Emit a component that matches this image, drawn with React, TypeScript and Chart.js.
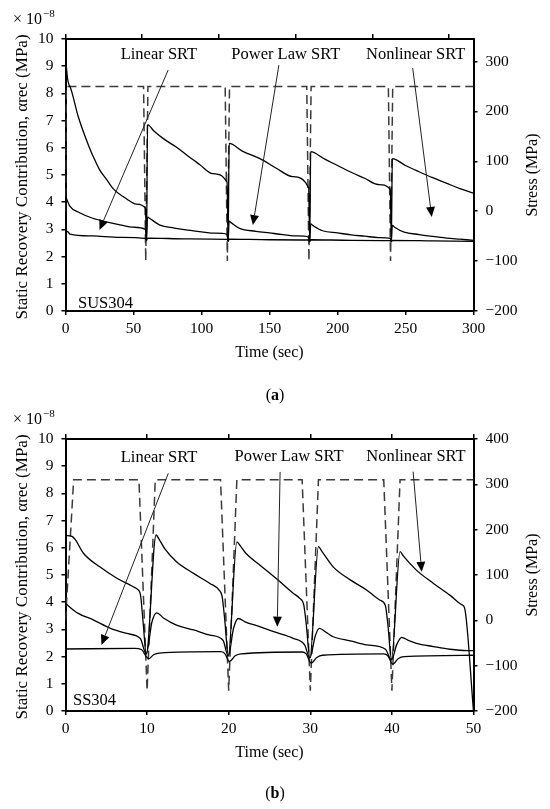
import { useEffect, useRef } from "react";
import { Chart, registerables } from "chart.js";

Chart.register(...registerables);

const SERIF = '"Liberation Serif", "Times New Roman", serif';

// ---- (a) SUS304, 0-300 s ----
const A_TIME_TICKS = [0, 50, 100, 150, 200, 250, 300];
const A_TOP_TICKS = [0, 1, 2, 3, 4, 5];
const A_STRESS_TICKS = [-200, -100, 0, 100, 200, 300];

const A_T_NL = [0, 0.3, 3.3, 9.4, 16.8, 20, 25, 30, 35, 45, 52, 58.8, 59.6, 60.3, 65, 73, 81.7, 90, 98.8, 108, 118.8, 119.6, 120.3, 130, 143, 155, 167, 178.8, 179.6, 180.3, 190, 200, 210, 220, 230, 238.8, 239.6, 240.3, 250, 260, 270, 280, 290, 300];
const A_NL = [10.6, 9.3, 8.25, 7.14, 6.1, 5.72, 5.2, 4.85, 4.5, 4.12, 3.93, 3.78, 2.58, 6.85, 6.62, 6.3, 6.02, 5.7, 5.38, 5.05, 4.73, 2.57, 6.16, 5.88, 5.6, 5.25, 4.94, 4.52, 2.56, 5.86, 5.6, 5.35, 5.1, 4.88, 4.65, 4.47, 2.55, 5.6, 5.35, 5.12, 4.9, 4.7, 4.5, 4.33];

const A_T_PL = [0, 1, 3.3, 10, 20, 30, 40, 50, 58.8, 59.6, 60.3, 62, 69.4, 80, 90, 100, 110, 118.8, 119.6, 120.3, 122, 128, 140, 150, 160, 170, 178.8, 179.6, 180.3, 182, 189, 200, 210, 220, 230, 238.8, 239.6, 240.3, 242, 249, 260, 270, 280, 290, 300];
const A_PL = [4.25, 4.1, 3.85, 3.62, 3.41, 3.28, 3.17, 3.08, 3.0, 2.6, 3.45, 3.4, 3.16, 3.05, 2.97, 2.91, 2.86, 2.82, 2.59, 3.3, 3.24, 3.04, 2.93, 2.87, 2.81, 2.76, 2.72, 2.58, 3.2, 3.14, 2.95, 2.87, 2.8, 2.75, 2.7, 2.67, 2.57, 3.15, 3.08, 2.9, 2.81, 2.74, 2.68, 2.64, 2.6];

const A_T_LIN = [0, 2, 3.3, 20, 40, 58.8, 59.6, 60.3, 90, 118.8, 119.6, 120.3, 150, 178.8, 179.6, 180.3, 210, 238.8, 239.6, 240.3, 270, 300];
const A_LIN = [2.95, 2.9, 2.83, 2.76, 2.71, 2.67, 2.6, 2.68, 2.65, 2.63, 2.56, 2.64, 2.62, 2.61, 2.55, 2.62, 2.6, 2.59, 2.54, 2.6, 2.58, 2.56];

const A_T_STRESS = [0, 0.5, 57.4, 59, 60.6, 117.4, 119, 120.6, 177.4, 179, 180.6, 237.4, 239, 240.6, 300];
const A_STRESS = [0, 250, 250, -100, 250, 250, -100, 250, 250, -100, 250, 250, -100, 250, 250];

// ---- (b) SS304, 0-50 s ----
const B_TIME_TICKS = [0, 10, 20, 30, 40, 50];
const B_STRESS_TICKS = [-200, -100, 0, 100, 200, 300, 400];

const B_T_NL = [0, 0.8, 1.2, 2.2, 4.2, 6.3, 8.3, 8.8, 9.2, 9.5, 9.9, 11.1, 11.5, 12.2, 13.6, 15.7, 17.7, 18.8, 19.2, 19.5, 19.95, 21.0, 21.4, 22.1, 23.8, 25.9, 27.9, 28.7, 29.2, 29.5, 29.95, 31.0, 31.4, 32.8, 34.9, 36.9, 38.5, 39.2, 39.5, 39.95, 41.0, 41.4, 43, 45.1, 47.1, 48.6, 48.9, 50];
const B_NL = [6.45, 6.42, 6.3, 5.8, 5.3, 4.88, 4.57, 4.48, 4.25, 3.3, 2.1, 6.47, 6.3, 5.95, 5.49, 5.06, 4.69, 4.45, 4.2, 3.4, 2.05, 6.22, 6.08, 5.8, 5.37, 4.85, 4.33, 4.14, 3.9, 3.2, 1.95, 6.04, 5.88, 5.3, 4.82, 4.45, 4.08, 3.88, 3.2, 1.9, 5.86, 5.7, 5.18, 4.69, 4.26, 3.9, 3.8, 0];

const B_T_PL = [0, 1.5, 3.4, 5.5, 7.5, 8.7, 9.2, 9.9, 10.6, 11.2, 12, 13.6, 15.7, 17.7, 19.3, 19.95, 20.6, 21.2, 22, 23.8, 25.9, 27.9, 29.3, 29.95, 30.6, 31.1, 32, 32.8, 34.9, 36.9, 39.2, 39.95, 40.6, 41.2, 42, 43, 45.1, 47.1, 49.2, 50];
const B_PL = [3.95, 3.6, 3.35, 3.04, 2.85, 2.76, 2.65, 2.1, 3.28, 3.61, 3.42, 3.16, 2.98, 2.79, 2.6, 2.02, 3.05, 3.4, 3.28, 3.1, 2.88, 2.67, 2.43, 1.95, 2.75, 3.04, 2.88, 2.73, 2.58, 2.43, 2.27, 1.88, 2.45, 2.71, 2.6, 2.49, 2.37, 2.27, 2.22, 2.22];

const B_T_LIN = [0, 8.5, 9.3, 9.9, 10.2, 10.8, 11.5, 19, 19.5, 20.1, 20.8, 21.5, 29, 29.5, 30.1, 30.8, 31.5, 39, 39.5, 40.1, 40.8, 41.5, 50];
const B_LIN = [2.28, 2.3, 2.26, 2.0, 1.92, 2.07, 2.13, 2.18, 2.12, 1.82, 2.03, 2.1, 2.17, 2.1, 1.76, 1.97, 2.05, 2.1, 2.03, 1.72, 1.93, 2.0, 2.05];

const B_T_STRESS = [0, 1, 9, 10, 11, 19, 20, 21, 29, 30, 31, 39, 40, 41, 50];
const B_STRESS = [0, 310, 310, -155, 310, 310, -155, 310, 310, -155, 310, 310, -155, 310, 310];

const Y_TICKS = [0, 1, 2, 3, 4, 5, 6, 7, 8, 9, 10];
const SRT_NAMES = ["Linear SRT", "Power Law SRT", "Nonlinear SRT"];

// label centres and arrows (time, value) in the left axis units
const A_LABEL_POS = [[68.7, 9.43], [162, 9.43], [257.5, 9.43]];
const A_ARROWS = [[75.5, 8.86, 25, 2.98], [156.9, 9.04, 137.8, 3.16], [255.3, 8.93, 269.3, 3.46]];
const B_LABEL_POS = [[11.46, 9.3], [27.4, 9.35], [42.95, 9.35]];
const B_ARROWS = [[12.6, 8.74, 4.41, 2.43], [26.3, 8.79, 25.95, 3.1], [42.6, 8.8, 43.65, 5.12]];

type Panel = {
  h: number; top: number; bottom: number;
  xMax: number; xTicks: number[]; x2Max: number; x2Ticks: number[];
  y1Max: number; y1Ticks: number[];
  nl: [number[], number[]]; pl: [number[], number[]]; lin: [number[], number[]]; stress: [number[], number[]];
  labels: number[][]; arrows: number[][];
  sample: string; sampleDx: number; sampleDy: number;
  caption: string; captionY: number;
};

const PANEL_A: Panel = {
  h: 405, top: 39, bottom: 311,
  xMax: 300, xTicks: A_TIME_TICKS, x2Max: 5.32, x2Ticks: A_TOP_TICKS,
  y1Max: 345, y1Ticks: A_STRESS_TICKS,
  nl: [A_T_NL, A_NL], pl: [A_T_PL, A_PL], lin: [A_T_LIN, A_LIN], stress: [A_T_STRESS, A_STRESS],
  labels: A_LABEL_POS, arrows: A_ARROWS,
  sample: "SUS304", sampleDx: 12.5, sampleDy: 3,
  caption: "a", captionY: 400,
};

const PANEL_B: Panel = {
  h: 404, top: 34, bottom: 306,
  xMax: 50, xTicks: B_TIME_TICKS, x2Max: 50, x2Ticks: B_TIME_TICKS,
  y1Max: 400, y1Ticks: B_STRESS_TICKS,
  nl: [B_T_NL, B_NL], pl: [B_T_PL, B_PL], lin: [B_T_LIN, B_LIN], stress: [B_T_STRESS, B_STRESS],
  labels: B_LABEL_POS, arrows: B_ARROWS,
  sample: "SS304", sampleDx: 7.5, sampleDy: 6,
  caption: "b", captionY: 393,
};

const zip = (t: number[], v: number[]) => t.map((x, i) => ({ x, y: v[i] }));
const fixTicks = (vals: number[]) => (s: any) => { s.ticks = vals.map((value) => ({ value })); };
const minus = (v: any) => (Number(v) < 0 ? "\u2212" + Math.abs(Number(v)) : String(v));

function decorPlugin(p: Panel) {
  return {
    id: "decor",
    afterDraw(chart: any) {
      const ctx = chart.ctx as CanvasRenderingContext2D;
      const { left, right, top, bottom } = chart.chartArea;
      const xs = chart.scales.x, ys = chart.scales.y;
      ctx.save();
      ctx.fillStyle = "#000";
      ctx.strokeStyle = "#222";
      ctx.lineWidth = 1;

      for (const [t1, v1, t2, v2] of p.arrows) {
        const x1 = xs.getPixelForValue(t1), y1 = ys.getPixelForValue(v1);
        const x2 = xs.getPixelForValue(t2), y2 = ys.getPixelForValue(v2);
        const a = Math.atan2(y2 - y1, x2 - x1);
        const hl = 10, hw = 4.5;
        const bx = x2 - hl * Math.cos(a), by = y2 - hl * Math.sin(a);
        ctx.beginPath();
        ctx.moveTo(x1, y1);
        ctx.lineTo(bx, by);
        ctx.stroke();
        ctx.beginPath();
        ctx.moveTo(x2, y2);
        ctx.lineTo(bx + hw * Math.sin(a), by - hw * Math.cos(a));
        ctx.lineTo(bx - hw * Math.sin(a), by + hw * Math.cos(a));
        ctx.closePath();
        ctx.fill();
      }

      ctx.font = `16.5px ${SERIF}`;
      ctx.textAlign = "center";
      ctx.textBaseline = "middle";
      p.labels.forEach(([t, v], i) => {
        ctx.fillText(SRT_NAMES[i], xs.getPixelForValue(t), ys.getPixelForValue(v));
      });

      ctx.textAlign = "left";
      ctx.textBaseline = "alphabetic";
      ctx.fillText(p.sample, left + p.sampleDx, bottom - p.sampleDy);

      ctx.textAlign = "center";
      ctx.textBaseline = "middle";
      ctx.font = `16px ${SERIF}`;
      ctx.fillText("Time (sec)", (left + right) / 2, bottom + 42);

      ctx.save();
      ctx.font = `17px ${SERIF}`;
      ctx.translate(23, (top + bottom) / 2 + 2);
      ctx.rotate(-Math.PI / 2);
      ctx.fillText("Static Recovery Contribution, \u03B1rec (MPa)", 0, 0);
      ctx.restore();

      ctx.save();
      ctx.translate(533, (top + bottom) / 2);
      ctx.rotate(-Math.PI / 2);
      ctx.fillText("Stress (MPa)", 0, 0);
      ctx.restore();

      // scale multiplier
      ctx.textAlign = "left";
      ctx.textBaseline = "alphabetic";
      ctx.font = `16px ${SERIF}`;
      ctx.fillText("\u00D7 10", 13, top - 15);
      const w = ctx.measureText("\u00D7 10").width;
      ctx.font = `11px ${SERIF}`;
      ctx.fillText("\u22128", 13 + w + 1, top - 22);

      // caption
      ctx.font = `16px ${SERIF}`;
      const o = ctx.measureText("(").width;
      ctx.font = `bold 16px ${SERIF}`;
      const b = ctx.measureText(p.caption).width;
      const cx = 275 - (2 * o + b) / 2;
      ctx.font = `16px ${SERIF}`;
      ctx.fillText("(", cx, p.captionY);
      ctx.fillText(")", cx + o + b, p.captionY);
      ctx.font = `bold 16px ${SERIF}`;
      ctx.fillText(p.caption, cx + o, p.captionY);
      ctx.restore();
    },
  };
}

function buildConfig(p: Panel): any {
  const tickFont = { family: SERIF, size: 15.5 };
  const axisGrid = (len: number) => ({
    display: true, drawOnChartArea: false, drawTicks: true, tickLength: len, color: "#000", lineWidth: 1.5,
  });
  const border = { display: true, color: "#000", width: 2 };
  const solid = (d: [number[], number[]]) => ({
    data: zip(d[0], d[1]), xAxisID: "x", yAxisID: "y",
    borderColor: "#000", borderWidth: 1.3, pointRadius: 0, cubicInterpolationMode: "monotone", fill: false,
  });
  return {
    type: "line",
    data: {
      datasets: [
        solid(p.nl),
        solid(p.pl),
        solid(p.lin),
        {
          data: zip(p.stress[0], p.stress[1]), xAxisID: "x", yAxisID: "y1",
          borderColor: "#3a3a3a", borderWidth: 1.5, borderDash: [9, 5], pointRadius: 0, tension: 0, fill: false,
        },
      ],
    },
    options: {
      responsive: false,
      animation: false,
      layout: { padding: { top: p.top - 10, left: 0, right: 0, bottom: 0 } },
      plugins: { legend: { display: false }, tooltip: { enabled: false } },
      scales: {
        x: {
          type: "linear", position: "bottom", min: 0, max: p.xMax,
          afterBuildTicks: fixTicks(p.xTicks),
          afterFit: (s: any) => { s.height = p.h - p.bottom; },
          ticks: { font: tickFont, color: "#000", padding: 5, autoSkip: false, maxRotation: 0 },
          grid: axisGrid(4), border,
        },
        x2: {
          type: "linear", position: "top", min: 0, max: p.x2Max,
          afterBuildTicks: fixTicks(p.x2Ticks),
          afterFit: (s: any) => { s.height = 10; },
          ticks: { display: false },
          grid: axisGrid(5), border,
        },
        y: {
          type: "linear", position: "left", min: 0, max: 10,
          afterBuildTicks: fixTicks(Y_TICKS),
          afterFit: (s: any) => { s.width = 65.5; },
          ticks: { font: tickFont, color: "#000", padding: 8 },
          grid: axisGrid(4), border,
        },
        y1: {
          type: "linear", position: "right", min: -200, max: p.y1Max,
          afterBuildTicks: fixTicks(p.y1Ticks),
          afterFit: (s: any) => { s.width = 550 - 473.5; },
          ticks: { font: tickFont, color: "#000", padding: 8, callback: minus },
          grid: axisGrid(4), border,
        },
      },
    },
    plugins: [decorPlugin(p)],
  };
}

function PanelChart({ panel }: { panel: Panel }) {
  const canvasRef = useRef<HTMLCanvasElement>(null);
  useEffect(() => {
    if (!canvasRef.current) return;
    const chart = new Chart(canvasRef.current, buildConfig(panel));
    return () => chart.destroy();
  }, [panel]);
  return (
    <canvas
      ref={canvasRef}
      width={550}
      height={panel.h}
      style={{ display: "block", width: 550, height: panel.h }}
    />
  );
}

export default function App() {
  return (
    <div style={{ position: "absolute", left: 0, top: 0, width: 550, height: 809, background: "#fff" }}>
      <PanelChart panel={PANEL_A} />
      <PanelChart panel={PANEL_B} />
    </div>
  );
}
